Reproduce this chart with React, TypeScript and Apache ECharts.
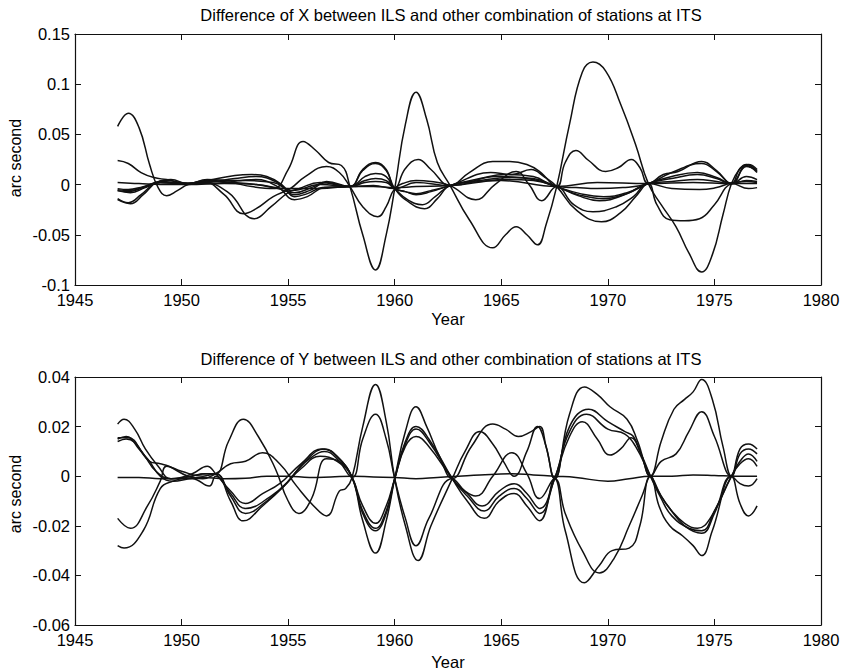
import React, { useEffect, useRef } from "react";
import * as echarts from "echarts";

// ---------- titles / labels ----------
const topTitle = "Difference of X between ILS and other combination of stations at ITS";
const bottomTitle = "Difference of Y between ILS and other combination of stations at ITS";
const xName = "Year";
const yName = "arc second";

// ---------- axes ----------
const xMin = 1945;
const xMax = 1980;
const xStep = 5;
const topYMin = -0.1;
const topYMax = 0.15;
const topYStep = 0.05;
const botYMin = -0.06;
const botYMax = 0.04;
const botYStep = 0.02;

// ---------- top panel: difference of X (year, arc second) ----------
const topA = [[1947,0.058],[1947.5,0.071],[1948,0.057],[1948.5,0.02],[1948.9,-0.003],[1949.3,-0.011],[1949.8,-0.006],[1950.3,0.0],[1951.2,0.004],[1952.3,0.002],[1953.3,-0.002],[1954.3,-0.004],[1955,0.015],[1955.7,0.043],[1956.3,0.034],[1956.9,0.022],[1957.5,0.019],[1957.9,-0.002],[1958.5,-0.05],[1959.1,-0.085],[1959.6,-0.05],[1960,-0.004],[1960.5,0.06],[1961,0.092],[1961.5,0.065],[1962,0.022],[1962.6,-0.001],[1963.5,-0.035],[1964.6,-0.063],[1965.2,-0.05],[1965.7,-0.042],[1966.2,-0.05],[1966.7,-0.06],[1967.1,-0.04],[1967.6,-0.002],[1968.2,0.06],[1968.8,0.112],[1969.3,0.122],[1969.9,0.113],[1970.6,0.08],[1971.3,0.04],[1971.9,0.001],[1972.5,-0.02],[1973.2,-0.042],[1973.8,-0.068],[1974.4,-0.087],[1974.9,-0.07],[1975.4,-0.03],[1975.8,0.001],[1976.2,0.016],[1976.5,0.02],[1977,0.013]];
const topB = [[1947,0.024],[1947.5,0.021],[1948.1,0.012],[1948.7,0.007],[1949.3,0.005],[1950.3,0.001],[1951.2,0.004],[1952.5,0.009],[1953.3,0.010],[1954.0,0.008],[1954.7,0.0],[1955.3,-0.012],[1955.9,-0.009],[1956.6,-0.003],[1957.9,-0.002],[1958.5,0.015],[1959.1,0.022],[1959.6,0.015],[1960,-0.004],[1960.5,0.016],[1961.1,0.025],[1961.7,0.015],[1962.6,-0.001],[1963.5,0.012],[1964.6,0.023],[1965.4,0.023],[1966.2,0.02],[1966.8,0.013],[1967.6,-0.002],[1968,0.022],[1968.5,0.034],[1969.1,0.024],[1969.9,0.013],[1970.5,0.017],[1971.1,0.025],[1971.5,0.017],[1971.9,0.001],[1972.6,0.01],[1973.3,0.013],[1974.4,0.023],[1975.1,0.014],[1975.8,0.001],[1976.2,0.016],[1976.6,0.02],[1977,0.015]];
const topC = [[1947,0.002],[1948,0.001],[1949,0.0],[1950.3,0.0],[1952,0.001],[1953.5,0.0],[1955,-0.004],[1956.5,-0.004],[1957.9,-0.002],[1959,-0.002],[1960,-0.003],[1961,-0.002],[1962.6,-0.001],[1965,0.004],[1967.6,-0.002],[1969.5,0.002],[1971.9,0.001],[1974,0.002],[1975.8,0.001],[1977,0.001]];
const topD = [[1947,-0.004],[1947.5,-0.005],[1948.2,-0.002],[1949,0.002],[1950.3,0.001],[1951.2,0.002],[1952.5,0.006],[1953.5,0.008],[1954.5,0.002],[1955.3,-0.010],[1956,-0.006],[1956.8,0.002],[1957.9,-0.002],[1958.6,0.008],[1959.1,0.011],[1959.6,0.008],[1960,-0.004],[1960.5,-0.007],[1961,-0.010],[1961.7,-0.007],[1962.6,-0.001],[1964,0.006],[1965.2,0.010],[1966.5,0.008],[1967.6,-0.002],[1968.5,-0.003],[1969.5,-0.004],[1970.7,-0.003],[1971.9,0.001],[1973,0.012],[1974.4,0.021],[1975.1,0.013],[1975.8,0.001],[1976.5,0.019],[1977,0.012]];
const topE = [[1947,-0.006],[1947.5,-0.007],[1948.2,-0.003],[1949,0.003],[1950.3,0.001],[1951.2,0.005],[1952.5,0.004],[1953.5,0.005],[1954.5,-0.002],[1955.3,-0.015],[1955.9,-0.012],[1956.7,-0.003],[1957.9,-0.002],[1958.6,0.004],[1959.1,0.006],[1959.6,0.004],[1960,-0.004],[1960.6,-0.015],[1961.3,-0.020],[1961.9,-0.012],[1962.6,-0.001],[1964,0.004],[1965.5,0.007],[1966.5,0.005],[1967.6,-0.002],[1968.6,-0.01],[1969.8,-0.014],[1970.9,-0.009],[1971.9,0.001],[1973,0.006],[1974.2,0.010],[1975.1,0.006],[1975.8,0.001],[1976.5,0.008],[1977,0.005]];
const topF = [[1947,-0.014],[1947.5,-0.018],[1948.1,-0.01],[1948.8,0.002],[1949.3,0.004],[1950.3,0.001],[1951.2,0.003],[1952.5,0.002],[1953.5,0.0],[1954.5,-0.004],[1955.3,-0.008],[1956.2,-0.002],[1956.8,0.003],[1957.9,-0.002],[1958.5,0.014],[1959.1,0.021],[1959.6,0.014],[1960,-0.004],[1960.7,-0.018],[1961.4,-0.024],[1962,-0.014],[1962.6,-0.001],[1964,0.003],[1965.3,0.005],[1966.5,0.004],[1967.6,-0.002],[1968.6,-0.011],[1969.6,-0.016],[1970.8,-0.01],[1971.9,0.001],[1973,0.003],[1974.2,0.005],[1975.1,0.003],[1975.8,0.001],[1976.5,0.004],[1977,0.003]];
const topG = [[1947,-0.015],[1947.6,-0.019],[1948.2,-0.01],[1948.9,0.003],[1949.5,0.005],[1950.3,0.001],[1951,0.003],[1952,-0.01],[1952.9,-0.029],[1953.5,-0.024],[1954.3,-0.012],[1955.1,-0.004],[1955.8,0.008],[1956.8,0.018],[1957.4,0.012],[1957.9,-0.002],[1958.5,-0.022],[1959.2,-0.032],[1959.6,-0.022],[1960,-0.004],[1960.5,0.002],[1961,0.004],[1961.7,0.003],[1962.6,-0.001],[1963.8,-0.015],[1964.7,0.0],[1965.7,0.013],[1966.3,0.0],[1966.9,-0.016],[1967.6,-0.002],[1968.4,-0.02],[1969.3,-0.027],[1970.4,-0.022],[1971.2,-0.012],[1971.9,0.001],[1973,-0.004],[1974.3,-0.005],[1975.1,-0.003],[1975.8,0.001],[1976.6,-0.004],[1977,-0.003]];
const topH = [[1947,-0.005],[1947.5,-0.006],[1948.3,-0.002],[1949,0.002],[1950.3,0.0],[1951,0.002],[1952.2,-0.008],[1953.4,-0.034],[1954.2,-0.022],[1955,-0.008],[1955.5,-0.004],[1956.5,0.002],[1957.9,-0.002],[1958.6,0.002],[1959.1,0.003],[1959.6,0.002],[1960,-0.004],[1960.5,-0.007],[1961,-0.009],[1961.7,-0.006],[1962.6,-0.001],[1964.5,0.012],[1965.5,0.010],[1966.4,0.015],[1967,0.008],[1967.6,-0.002],[1968.5,-0.025],[1969.7,-0.037],[1970.6,-0.028],[1971.3,-0.012],[1971.9,0.001],[1972.3,-0.02],[1972.9,-0.035],[1973.6,-0.036],[1974.3,-0.034],[1975,-0.02],[1975.8,0.001],[1976.5,0.003],[1977,0.002]];
const topI = [[1947,-0.006],[1947.6,-0.008],[1948.3,-0.003],[1949,0.002],[1950.3,0.001],[1951.5,0.001],[1953,0.004],[1954.3,0.002],[1955.2,-0.006],[1956.5,0.0],[1957.9,-0.002],[1959,-0.001],[1960,-0.004],[1961,0.002],[1962.6,-0.001],[1964.8,0.008],[1966.5,0.006],[1967.6,-0.002],[1968.7,-0.009],[1969.8,-0.012],[1970.9,-0.008],[1971.9,0.001],[1973,0.008],[1974.2,0.012],[1975.1,0.007],[1975.8,0.001],[1976.5,0.018],[1977,0.014]];

// ---------- bottom panel: difference of Y (year, arc second) ----------
const botF0 = [[1947,-0.0005],[1948,-0.0005],[1949,-0.001],[1950,-0.001],[1951,-0.0005],[1952,-0.001],[1953,-0.0008],[1954,0.0],[1955,0.0],[1956,-0.0005],[1957,-0.0003],[1958,0.0],[1959,-0.0003],[1960,-0.0005],[1961,-0.001],[1962,-0.0005],[1963,0.0],[1964,0.0005],[1965.5,0.001],[1966.5,0.0005],[1967.5,0.0],[1968.5,-0.0005],[1970,-0.002],[1971,-0.001],[1972,0.0],[1973,0.0],[1974,0.0005],[1975,0.0003],[1976,0.0],[1977,0.0]];
const botQ1 = [[1947,0.021],[1947.3,0.023],[1947.8,0.019],[1948.3,0.011],[1948.9,0.004],[1949.5,-0.001],[1950.4,0.0],[1951.1,0.001],[1951.6,0.001],[1952.2,0.014],[1952.9,0.023],[1953.6,0.016],[1954.4,0.003],[1955,-0.01],[1955.5,-0.015],[1956.1,-0.009],[1956.8,0.007],[1957.4,0.006],[1958,-0.0005],[1958.5,-0.018],[1959.1,-0.031],[1959.6,-0.018],[1960,-0.001],[1960.5,0.018],[1961,0.028],[1961.5,0.02],[1962.1,0.008],[1962.7,-0.001],[1963.6,0.012],[1964.6,0.021],[1965.2,0.019],[1965.8,0.016],[1966.4,0.018],[1966.8,0.020],[1967.1,0.012],[1967.5,-0.001],[1968.2,0.025],[1968.9,0.036],[1969.5,0.033],[1970.1,0.028],[1970.9,0.023],[1971.4,0.014],[1972,0.0],[1972.5,0.014],[1973.1,0.027],[1973.6,0.031],[1974.0,0.034],[1974.4,0.039],[1974.9,0.031],[1975.4,0.012],[1975.8,0.0],[1976.2,0.011],[1976.6,0.013],[1977,0.011]];
const botQ2 = [[1947,0.015],[1947.4,0.016],[1948,0.011],[1948.5,0.006],[1949,0.005],[1949.4,0.004],[1950.3,0.0],[1951,-0.001],[1951.6,0.001],[1952.3,0.005],[1953,0.006],[1953.8,0.0095],[1954.6,0.005],[1955.4,-0.004],[1956.2,-0.012],[1956.8,-0.016],[1957.4,-0.006],[1957.7,-0.005],[1958,-0.0005],[1958.5,0.02],[1959.1,0.037],[1959.6,0.022],[1960,-0.001],[1960.5,-0.02],[1961.1,-0.034],[1961.7,-0.02],[1962.7,-0.001],[1963.3,0.01],[1964.0,0.018],[1964.6,0.013],[1965.1,0.006],[1965.6,0.0],[1966.2,0.01],[1966.7,0.020],[1967.1,0.012],[1967.5,-0.001],[1968.2,0.02],[1969.1,0.027],[1970,0.022],[1970.8,0.018],[1971.2,0.016],[1971.6,0.008],[1972,0.0],[1972.5,0.006],[1973.2,0.009],[1973.8,0.018],[1974.4,0.026],[1975,0.016],[1975.8,0.0],[1976.2,0.009],[1976.6,0.011],[1977,0.009]];
const botQ3 = [[1947,0.0155],[1947.5,0.0155],[1948.2,0.009],[1948.8,0.002],[1949.5,-0.001],[1950.5,0.001],[1951.2,0.004],[1951.6,0.001],[1952.3,-0.006],[1953,-0.011],[1953.8,-0.007],[1954.6,-0.003],[1955.6,0.005],[1956.6,0.011],[1957.3,0.008],[1958,-0.0005],[1958.5,-0.012],[1959.1,-0.019],[1959.6,-0.012],[1960,-0.001],[1960.5,0.012],[1961,0.016],[1961.6,0.012],[1962.7,-0.001],[1963.4,-0.007],[1964.1,-0.012],[1964.9,-0.006],[1965.6,-0.003],[1966.2,-0.007],[1966.8,-0.013],[1967.5,-0.001],[1968.2,0.018],[1969,0.025],[1970,0.019],[1970.8,0.017],[1971.3,0.012],[1972,0.0],[1972.5,-0.008],[1973,-0.014],[1973.6,-0.019],[1974.2,-0.021],[1974.8,-0.017],[1975.8,0.0],[1976.2,0.006],[1976.6,0.009],[1977,0.006]];
const botQ4 = [[1947,0.014],[1947.4,0.015],[1948.4,0.007],[1949,0.0],[1949.6,-0.002],[1950.5,-0.001],[1951.3,-0.004],[1951.6,0.0],[1952.3,-0.007],[1953,-0.013],[1954.2,-0.008],[1955,-0.002],[1955.8,0.006],[1956.7,0.011],[1957.4,0.007],[1958,-0.0005],[1958.5,-0.014],[1959.1,-0.021],[1959.6,-0.014],[1960,-0.001],[1960.5,0.013],[1961,0.019],[1961.6,0.014],[1962.7,-0.001],[1963.4,-0.008],[1964.2,-0.014],[1964.9,-0.008],[1965.6,-0.005],[1966.2,-0.009],[1966.8,-0.015],[1967.5,-0.001],[1968.2,0.016],[1968.8,0.022],[1969.5,0.015],[1970.1,0.0085],[1970.6,0.011],[1971.1,0.0155],[1971.5,0.01],[1972,0.0],[1972.5,-0.009],[1973,-0.016],[1973.8,-0.021],[1974.4,-0.022],[1975,-0.014],[1975.8,0.0],[1976.2,0.005],[1976.6,0.007],[1977,0.004]];
const botQ5 = [[1947,-0.017],[1947.6,-0.021],[1948.4,-0.012],[1949,-0.002],[1949.3,0.004],[1950,0.002],[1951,0.0],[1951.6,0.001],[1952.3,-0.008],[1953,-0.015],[1954,-0.01],[1954.8,-0.004],[1955.6,0.003],[1956.5,0.008],[1957.3,0.006],[1958,-0.0005],[1958.5,-0.015],[1959.1,-0.022],[1959.6,-0.015],[1960,-0.001],[1960.5,0.014],[1961,0.020],[1961.6,0.015],[1962.7,-0.001],[1963.4,-0.01],[1964.2,-0.017],[1964.9,-0.01],[1965.6,-0.007],[1966.2,-0.012],[1966.8,-0.018],[1967.5,-0.001],[1968,-0.022],[1968.9,-0.043],[1969.6,-0.036],[1970.2,-0.030],[1971,-0.029],[1971.5,-0.02],[1972,0.0],[1972.5,-0.008],[1972.9,-0.013],[1973.6,-0.020],[1974.4,-0.023],[1975,-0.015],[1975.8,0.0],[1976.2,-0.003],[1976.6,-0.004],[1977,-0.001]];
const botQ6 = [[1947,-0.028],[1947.3,-0.029],[1948.2,-0.022],[1949,-0.005],[1949.6,-0.002],[1950.5,0.0],[1951.2,0.001],[1951.6,0.001],[1952.3,-0.01],[1952.9,-0.018],[1953.8,-0.012],[1954.8,-0.004],[1955.5,0.003],[1956.0,0.007],[1956.7,0.010],[1957.3,0.007],[1958,-0.0005],[1958.5,0.015],[1959.1,0.025],[1959.6,0.015],[1960,-0.001],[1960.5,-0.017],[1961,-0.028],[1961.6,-0.017],[1962.7,-0.001],[1963.3,-0.006],[1963.8,-0.008],[1964.6,0.0],[1965.5,0.0095],[1966.2,0.001],[1966.8,-0.009],[1967.5,-0.001],[1968,-0.015],[1968.8,-0.030],[1969.6,-0.039],[1970.3,-0.033],[1971,-0.02],[1971.6,-0.008],[1972,0.0],[1972.4,-0.012],[1972.9,-0.02],[1973.5,-0.024],[1974,-0.028],[1974.4,-0.032],[1974.9,-0.022],[1975.8,0.0],[1976.2,-0.011],[1976.6,-0.016],[1977,-0.012]];

const topCurves = [topA, topB, topC, topD, topE, topF, topG, topH, topI];
const bottomCurves = [botF0, botQ1, botQ2, botQ3, botQ4, botQ5, botQ6];

const FONT = "'Liberation Sans', Arial, Helvetica, sans-serif";
const INK = "#111";

const fmt = (v: number) => {
  const r = parseFloat(Number(v).toFixed(4));
  return r === 0 ? "0" : String(r);
};

function xAxes(gridIndex: number) {
  const common = {
    type: "value" as const,
    gridIndex,
    min: xMin,
    max: xMax,
    interval: xStep,
    splitLine: { show: false },
    axisLine: { show: true, onZero: false, lineStyle: { color: INK, width: 1.2 } },
    axisTick: { show: true, inside: true, length: 6, lineStyle: { color: INK, width: 1 } },
  };
  return [
    {
      ...common,
      position: "bottom",
      axisLabel: { show: true, color: "#000", fontSize: 16.5, fontFamily: FONT, margin: 6, formatter: (v: number) => String(Math.round(v)) },
    },
    { ...common, position: "top", axisLabel: { show: false } },
  ];
}

function yAxes(gridIndex: number, min: number, max: number, step: number) {
  const common = {
    type: "value" as const,
    gridIndex,
    min,
    max,
    interval: step,
    splitLine: { show: false },
    axisLine: { show: true, onZero: false, lineStyle: { color: INK, width: 1.2 } },
    axisTick: { show: true, inside: true, length: 6, lineStyle: { color: INK, width: 1 } },
  };
  return [
    {
      ...common,
      position: "left",
      axisLabel: { show: true, color: "#000", fontSize: 16.5, fontFamily: FONT, margin: 5, formatter: fmt },
    },
    { ...common, position: "right", axisLabel: { show: false } },
  ];
}

export default function App() {
  const ref = useRef<HTMLDivElement>(null);

  useEffect(() => {
    if (!ref.current) return;
    const chart = echarts.init(ref.current, undefined, { renderer: "svg" });

    const lineSeries = (data: number[][], xi: number, yi: number) => ({
      type: "line",
      xAxisIndex: xi,
      yAxisIndex: yi,
      data,
      smooth: 0.45,
      showSymbol: false,
      symbol: "none",
      silent: true,
      clip: true,
      lineStyle: { color: INK, width: 1.5 },
    });

    const series = [
      ...topCurves.map((d) => lineSeries(d, 0, 0)),
      ...bottomCurves.map((d) => lineSeries(d, 2, 2)),
    ];

    const textStyle = (fontSize: number) => ({ fill: "#000", fontSize, fontFamily: FONT });

    chart.setOption({
      animation: false,
      backgroundColor: "#fff",
      grid: [
        { left: 75, top: 34, width: 746, height: 251, containLabel: false },
        { left: 75, top: 377, width: 746, height: 248, containLabel: false },
      ],
      xAxis: [...xAxes(0), ...xAxes(1)],
      yAxis: [...yAxes(0, topYMin, topYMax, topYStep), ...yAxes(1, botYMin, botYMax, botYStep)],
      series,
      graphic: [
        { type: "text", x: 451, y: 15, style: { ...textStyle(16.5), text: topTitle, align: "center", verticalAlign: "middle" } },
        { type: "text", x: 451, y: 359, style: { ...textStyle(16.5), text: bottomTitle, align: "center", verticalAlign: "middle" } },
        { type: "text", x: 448, y: 319, style: { ...textStyle(16.5), text: xName, align: "center", verticalAlign: "middle" } },
        { type: "text", x: 448, y: 662, style: { ...textStyle(16.5), text: xName, align: "center", verticalAlign: "middle" } },
        { type: "text", x: 15, y: 158, rotation: Math.PI / 2, style: { ...textStyle(16), text: yName, align: "center", verticalAlign: "middle" } },
        { type: "text", x: 15, y: 494, rotation: Math.PI / 2, style: { ...textStyle(16), text: yName, align: "center", verticalAlign: "middle" } },
      ],
    });

    return () => chart.dispose();
  }, []);

  return (
    <div
      ref={ref}
      style={{ position: "fixed", left: 0, top: 0, width: 847, height: 672, background: "#fff" }}
    />
  );
}
